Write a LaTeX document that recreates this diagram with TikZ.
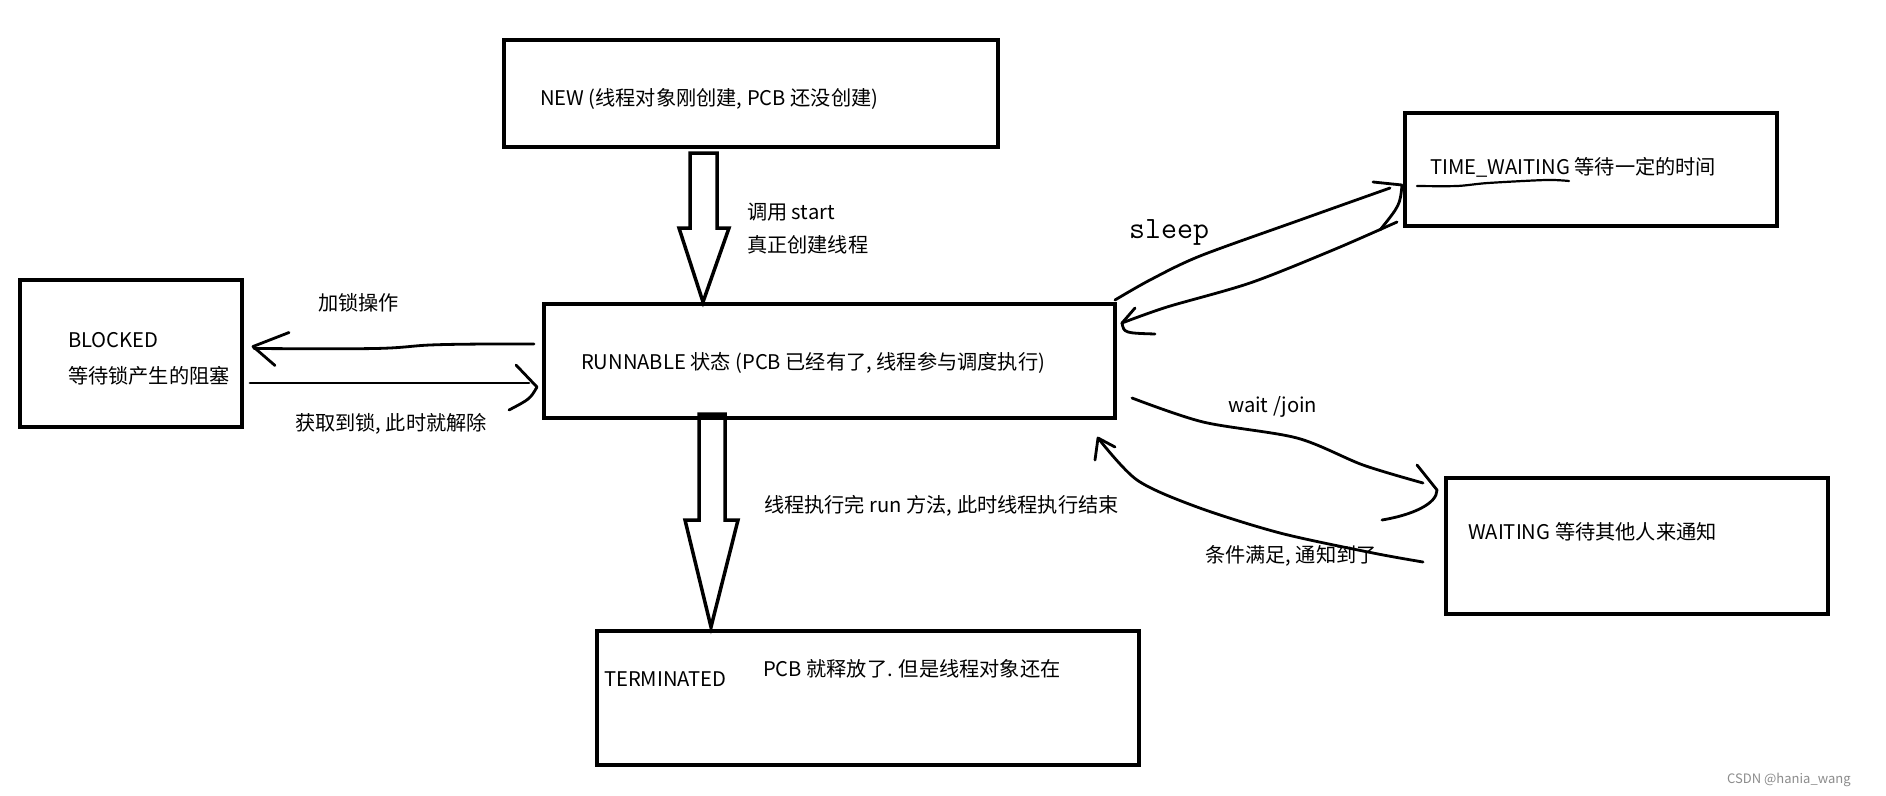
\documentclass[tikz,border=0pt]{standalone}
\usepackage{fontspec}
\setmainfont{Noto Sans CJK SC}
\usetikzlibrary{calc}
\begin{document}
\begin{tikzpicture}[x=1pt,y=-1pt,
  box/.style={draw, line width=3.8pt, inner sep=0pt, outer sep=0pt},
  txt/.style={anchor=base west, inner sep=0pt, outer sep=0pt, font=\fontsize{20.2pt}{24pt}\selectfont},
  hand/.style={line width=2.8pt, line cap=round, line join=round},
  fat/.style={line width=3.5pt, line join=miter}]
\fill[white] (0,0) rectangle (1886,795);
\useasboundingbox (0,0) rectangle (1886,795);

% state boxes
\node[box, minimum width=494pt, minimum height=107pt] (new) at (751,93.5) {};
\node[box, minimum width=571pt, minimum height=114pt] (run) at (829.5,361) {};
\node[box, minimum width=222pt, minimum height=147pt] (blk) at (131,353.5) {};
\node[box, minimum width=372pt, minimum height=113pt] (tw) at (1591,169.5) {};
\node[box, minimum width=382pt, minimum height=136pt] (wt) at (1637,546) {};
\node[box, minimum width=542pt, minimum height=134pt] (term) at (868,698) {};

% hollow arrows
\draw[fat] ($(new.south)+(-61,6)$) -- ++(27,0) -- ++(0,75) -- ++(12,0)
  -- ($(run.north)+(-126.5,-2)$) -- ++(-24,-74) -- ++(11,0) -- cycle;
\draw[fat] ($(run.south)+(-130.5,-4)$) -- ++(26,0) -- ++(0,106) -- ++(13,0)
  -- ($(term.north)+(-157,-4)$) -- ++(-26,-107) -- ++(14,0) -- cycle;

% lock: run -> blocked
\coordinate (l1) at ($(run.west)+(-10,-17)$);
\coordinate (l2) at ($(blk.east)+(12,-5)$);
\draw[hand] plot[smooth, tension=0.6] coordinates {(l1) (486,344) (430,345) (375,348.5) (l2)};
\draw[hand] ($(l2)+(35,-16)$) -- ($(l2)+(-1,-2)$) -- ($(l2)+(21,17)$);

% acquired: blocked -> run
\coordinate (k1) at ($(blk.east)+(8,29.5)$);
\coordinate (k2) at ($(run.west)+(-8,22)$);
\draw[hand] (k1) -- ($(k2)+(-7,0)$);
\draw[hand] ($(k2)+(-20,-18)$) -- ($(k2)+(1,4)$) .. controls ($(k2)+(-6,16)$) .. ($(k2)+(-27,27)$);

% sleep: run -> time_waiting
\coordinate (s1) at ($(run.north east)+(0,-4)$);
\coordinate (s2) at ($(tw.west)+(-3,15.5)$);
\draw[hand] plot[smooth] coordinates {(s1) (1150,280) (1200,256) (1300,220) (1390,188)};
\draw[hand] ($(s2)+(-29,-3)$) -- (s2) .. controls ($(s2)+(-2,20)$) .. ($(s2)+(-22,45)$);

% back: time_waiting -> run
\coordinate (r1) at ($(tw.west)+(-8,52.5)$);
\coordinate (r2) at ($(run.east)+(7,-38)$);
\draw[hand] plot[smooth] coordinates {(r1) (1333,250) (1250,283) (1167,307) (r2)};
\draw[hand] ($(r2)+(13,-15)$) -- (r2) .. controls ($(r2)+(2,10)$) .. ($(r2)+(33,11)$);

% wait/join: run -> waiting
\coordinate (w1) at ($(run.east)+(17,37)$);
\coordinate (w2) at ($(wt.west)+(-9,-56)$);
\draw[hand] plot[smooth] coordinates {(w1) (1203,422) (1297,438) (1363,465) ($(w2)+(-14,-7)$)};
\draw[hand] ($(w2)+(-20,-25)$) -- (w2) .. controls ($(w2)+(0,14)$) and ($(w2)+(-25,25)$) .. ($(w2)+(-55,30)$);

% notified: waiting -> run
\coordinate (n1) at ($(wt.west)+(-23,16)$);
\coordinate (n2) at ($(run.south east)+(-17,20)$);
\draw[hand] plot[smooth] coordinates {(n1) (1373,553) (1280,533) (1197,507) (1137,480) (n2)};
\draw[hand] ($(n2)+(-3,22)$) -- (n2) -- ($(n2)+(17,9)$);

% texts
\node[txt] (newt) at (540,105) {NEW (线程对象刚创建, PCB 还没创建)};
\node[txt] (st1) at (747,219) {调用 start};
\node[txt] (st2) at (747,252) {真正创建线程};
\node[txt] (runt) at (581,369) {RUNNABLE 状态 (PCB 已经有了, 线程参与调度执行)};
\node[txt] (blk1) at (68,347) {BLOCKED};
\node[txt] (blk2) at (68,383) {等待锁产生的阻塞};
\node[txt] (lockt) at (318,310) {加锁操作};
\node[txt] (acqt) at (295,430) {获取到锁, 此时就解除};
\node[txt] (endt) at (764,512) {线程执行完 run 方法, 此时线程执行结束};
\node[txt] (termt) at (604,686) {TERMINATED};
\node[txt] (pcbt) at (763,676) {PCB 就释放了. 但是线程对象还在};
\node[txt] (twt) at (1430,174) {TIME\_WAITING 等待一定的时间};
\draw[hand, line width=2.2pt] plot[smooth] coordinates {(1417,186) (1457,186) (1488,183) (1546,180) (1569,181)};
\node[anchor=base west, inner sep=0pt, font=\ttfamily\fontsize{31pt}{34pt}\selectfont] (sleept) at (1129,238) {sleep};
\node[txt] (waitt) at (1228,412) {wait /join};
\node[txt] (wtt) at (1468,539) {WAITING 等待其他人来通知};
\node[txt] (nott) at (1205,562) {条件满足, 通知到了};
\node[anchor=base west, inner sep=0pt, font=\fontsize{13pt}{15pt}\selectfont, text=black!45] (wm) at (1727,783) {CSDN @hania\_wang};
\end{tikzpicture}
\end{document}
